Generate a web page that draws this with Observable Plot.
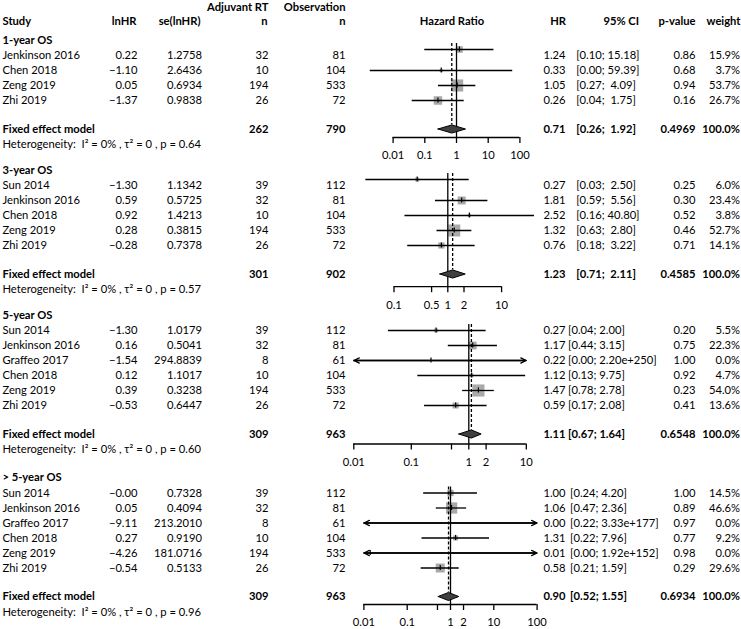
<!DOCTYPE html>
<html><head><meta charset="utf-8">
<script src="https://cdn.jsdelivr.net/npm/d3@7"></script>
<script src="https://cdn.jsdelivr.net/npm/@observablehq/plot@0.6"></script>
<style>
body{margin:0;background:#fff;}
#chart{position:relative;width:741px;height:629px;overflow:hidden;background:#fff;}
#chart svg{position:absolute;left:0;top:0;}
#chart text{white-space:pre;}
</style></head><body><div id="chart"></div>
<script>
// ---------- data ----------
const sectionTitles = ["1-year OS", "3-year OS", "5-year OS", "> 5-year OS"];
const headerLine1 = ["Adjuvant RT", "Observation"];
const headerLine2 = ["Study", "lnHR", "se(lnHR)", "n", "n", "Hazard Ratio", "HR", "95% CI", "p-value", "weight"];

const rowSection = [0,0,0,0, 1,1,1,1,1, 2,2,2,2,2,2, 3,3,3,3,3,3];
const studies = ["Jenkinson 2016","Chen 2018","Zeng 2019","Zhi 2019",
  "Sun 2014","Jenkinson 2016","Chen 2018","Zeng 2019","Zhi 2019",
  "Sun 2014","Jenkinson 2016","Graffeo 2017","Chen 2018","Zeng 2019","Zhi 2019",
  "Sun 2014","Jenkinson 2016","Graffeo 2017","Chen 2018","Zeng 2019","Zhi 2019"];
const lnHR = [0.22,-1.10,0.05,-1.37, -1.30,0.59,0.92,0.28,-0.28, -1.30,0.16,-1.54,0.12,0.39,-0.53, -0,0.05,-9.11,0.27,-4.26,-0.54];
const seLnHR = [1.2758,2.6436,0.6934,0.9838, 1.1342,0.5725,1.4213,0.3815,0.7378, 1.0179,0.5041,294.8839,1.1017,0.3238,0.6447, 0.7328,0.4094,213.2010,0.9190,181.0716,0.5133];
const nRT = [32,10,194,26, 39,32,10,194,26, 39,32,8,10,194,26, 39,32,8,10,194,26];
const nObs = [81,104,533,72, 112,81,104,533,72, 112,81,61,104,533,72, 112,81,61,104,533,72];
const hr = [1.24,0.33,1.05,0.26, 0.27,1.81,2.52,1.32,0.76, 0.27,1.17,0.22,1.12,1.47,0.59, 1.00,1.06,0.0001,1.31,0.014,0.58];
const ciLower = [0.10,0.0019,0.27,0.04, 0.03,0.59,0.16,0.63,0.18, 0.04,0.44,0,0.13,0.78,0.17, 0.24,0.47,0,0.22,0,0.21];
const ciUpper = [15.18,59.39,4.09,1.75, 2.50,5.56,40.80,2.80,3.22, 2.00,3.15,2.20e250,9.75,2.78,2.08, 4.20,2.36,3.33e177,7.96,1.92e152,1.59];
const ciLabels = ["[0.10; 15.18]","[0.00; 59.39]","[0.27;  4.09]","[0.04;  1.75]",
  "[0.03;  2.50]","[0.59;  5.56]","[0.16; 40.80]","[0.63;  2.80]","[0.18;  3.22]",
  "[0.04; 2.00]","[0.44; 3.15]","[0.00; 2.20e+250]","[0.13; 9.75]","[0.78; 2.78]","[0.17; 2.08]",
  "[0.24; 4.20]","[0.47; 2.36]","[0.22; 3.33e+177]","[0.22; 7.96]","[0.00; 1.92e+152]","[0.21; 1.59]"];
const pValues = [0.86,0.68,0.94,0.16, 0.25,0.30,0.52,0.46,0.71, 0.20,0.75,1.00,0.92,0.23,0.41, 1.00,0.89,0.97,0.77,0.98,0.29];
const weights = [15.9,3.7,53.7,26.7, 6.0,23.4,3.8,52.7,14.1, 5.5,22.3,0.0,4.7,54.0,13.6, 14.5,46.6,0.0,9.2,0.0,29.6];

const fixedNRT = [262, 301, 309, 309];
const fixedNObs = [790, 902, 963, 963];
const fixedHR = [0.71, 1.23, 1.11, 0.90];
const fixedLower = [0.26, 0.71, 0.67, 0.52];
const fixedUpper = [1.92, 2.11, 1.64, 1.55];
const fixedCILabels = ["[0.26;  1.92]", "[0.71;  2.11]", "[0.67; 1.64]", "[0.52; 1.55]"];
const fixedP = ["0.4969", "0.4585", "0.6548", "0.6934"];
const hetP = ["0.64", "0.57", "0.60", "0.96"];
const axisTicks = [[0.01,0.1,1,10,100],[0.1,0.5,1,2,10],[0.01,0.1,0.5,1,2,10],[0.01,0.1,0.5,1,2,10,100]];

// ---------- layout ----------
const W = 741, H = 629, ROW = 15;
const layout = [
  {firstY: 55,    px1: 456,   decade: 31.7, xlim: [0.001, 1000], ciX: 575.7, axisGap: 8.5,  shift: 6},
  {firstY: 185,   px1: 447.3, decade: 53.8, xlim: [0.01, 100],   ciX: 575.7, axisGap: 12.7, shift: 6},
  {firstY: 330,   px1: 468.3, decade: 57.5, xlim: [0.01, 10],    ciX: 567.5, axisGap: 10,   shift: 0},
  {firstY: 492.5, px1: 450,   decade: 43.3, xlim: [0.01, 100],   ciX: 569.5, axisGap: 8,    shift: 0}
];
const COL = {study: 2, lnHR: 137, se: 201.5, nRT: 268, nObs: 345, hr: 565, p: 695, w: 739.5, hrTitle: 451.5, ciHead: 638.5};
const FONT = "Lato, 'Open Sans', sans-serif";
const FS = 11.2;

const signed = v => (v < 0 || Object.is(v, -0) ? "\u2212" : "") + Math.abs(v).toFixed(2);

const allRows = studies.map((s, i) => ({
  sec: rowSection[i], study: s, lnHR: lnHR[i], se: seLnHR[i], nRT: nRT[i], nObs: nObs[i],
  hr: hr[i], lo: ciLower[i], hi: ciUpper[i], ci: ciLabels[i], p: pValues[i], w: weights[i]
}));

function sectionPlot(k) {
  const L = layout[k];
  const ticks = axisTicks[k];
  const px = v => L.px1 + Math.log10(v) * L.decade;
  const x0 = px(ticks[0]), x1 = px(ticks[ticks.length - 1]);
  const rows = allRows.filter(d => d.sec === k).map((d, i) => ({...d, row: i + 1, yp: i + 1 - (i === 0 ? L.shift / ROW : 0)}));
  const n = rows.length;
  const sumRow = n + 1.9;
  const hetRow = sumRow + 1.03;
  const axisRow = sumRow + L.axisGap / ROW;
  const titleRow = 1 - 1.03;
  const topRow = rows[0].yp - 0.4;
  const axisY = L.firstY + (axisRow - 1) * ROW;
  const inX = v => v >= L.xlim[0] && v <= L.xlim[1];
  const T = (data, xAbs, anchor, opts) => Plot.text(data, {frameAnchor: "left", dx: xAbs - x0, textAnchor: anchor, fill: "black", fontSize: FS, ...opts});
  const dh = 0.27;
  const diamond = [
    {x: fixedLower[k], y: sumRow}, {x: fixedHR[k], y: sumRow - dh},
    {x: fixedUpper[k], y: sumRow}, {x: fixedHR[k], y: sumRow + dh}, {x: fixedLower[k], y: sumRow}
  ];
  const marks = [
    Plot.dot(rows.filter(d => inX(d.hr) && d.w > 0), {x: "hr", y: "yp", r: "w", symbol: "square", fill: "#a9a9a9", stroke: "none"}),
    Plot.ruleX([1], {y1: topRow, y2: axisRow, stroke: "black", strokeWidth: 1.3}),
    Plot.ruleX([fixedHR[k]], {y1: topRow, y2: sumRow - dh, stroke: "black", strokeWidth: 1.3, strokeDasharray: "3,2"}),
    Plot.ruleY(rows, {y: "yp", x1: d => Math.max(d.lo, L.xlim[0]), x2: d => Math.min(d.hi, L.xlim[1]), stroke: "black", strokeWidth: 1.3}),
    Plot.arrow(rows.filter(d => d.lo < L.xlim[0]), {x1: () => 1, x2: () => L.xlim[0], y1: "yp", y2: "yp", stroke: "black", strokeWidth: 1.3, headLength: 7, headAngle: 50}),
    Plot.arrow(rows.filter(d => d.hi > L.xlim[1]), {x1: () => 1, x2: () => L.xlim[1], y1: "yp", y2: "yp", stroke: "black", strokeWidth: 1.3, headLength: 7, headAngle: 50}),
    Plot.ruleX(rows.filter(d => inX(d.hr)), {x: "hr", y1: d => d.yp - 0.17, y2: d => d.yp + 0.17, stroke: "black", strokeWidth: 1.2}),
    Plot.line(diamond, {x: "x", y: "y", fill: "#3f3f3f", stroke: "black", strokeWidth: 1}),
    Plot.ruleY([axisRow], {x1: ticks[0], x2: ticks[ticks.length - 1], stroke: "black", strokeWidth: 1.3}),
    Plot.axisX({anchor: "bottom", ticks, tickSize: 6, tickPadding: 8, tickFormat: d => String(d), strokeWidth: 1.3, fill: "black", fontSize: FS}),
    // table text
    T([sectionTitles[k]], COL.study, "start", {y: () => titleRow, text: d => d, fontWeight: "bold"}),
    T(rows, COL.study, "start", {y: "row", text: "study"}),
    T(rows, COL.lnHR, "end", {y: "row", text: d => signed(d.lnHR)}),
    T(rows, COL.se, "end", {y: "row", text: d => d.se.toFixed(4)}),
    T(rows, COL.nRT, "end", {y: "row", text: d => String(d.nRT)}),
    T(rows, COL.nObs, "end", {y: "row", text: d => String(d.nObs)}),
    T(rows, COL.hr, "end", {y: "row", text: d => d.hr.toFixed(2)}),
    T(rows, L.ciX, "start", {y: "row", text: "ci"}),
    T(rows, COL.p, "end", {y: "row", text: d => d.p.toFixed(2)}),
    T(rows, COL.w, "end", {y: "row", text: d => d.w.toFixed(1) + "%"}),
    // summary
    T(["Fixed effect model"], COL.study, "start", {y: () => sumRow, text: d => d, fontWeight: "bold"}),
    T([fixedNRT[k]], COL.nRT, "end", {y: () => sumRow, text: d => String(d), fontWeight: "bold"}),
    T([fixedNObs[k]], COL.nObs, "end", {y: () => sumRow, text: d => String(d), fontWeight: "bold"}),
    T([fixedHR[k]], COL.hr, "end", {y: () => sumRow, text: d => d.toFixed(2), fontWeight: "bold"}),
    T([fixedCILabels[k]], L.ciX, "start", {y: () => sumRow, text: d => d, fontWeight: "bold"}),
    T([fixedP[k]], COL.p, "end", {y: () => sumRow, text: d => d, fontWeight: "bold"}),
    T(["100.0%"], COL.w, "end", {y: () => sumRow, text: d => d, fontWeight: "bold"}),
    T([hetP[k]], COL.study, "start", {y: () => hetRow, text: d => `Heterogeneity:  I\u00B2 = 0% , \u03C4\u00B2 = 0 , p = ${d}`})
  ];
  if (k === 0) {
    const h1 = [COL.nRT, COL.nObs];
    const h2 = [[COL.study, "start"], [COL.lnHR - 1, "end"], [COL.se - 1.5, "end"], [COL.nRT - 1, "end"], [COL.nObs, "end"],
      [COL.hrTitle, "middle"], [COL.hr + 0.5, "end"], [COL.ciHead, "end"], [COL.p, "end"], [COL.w + 0.5, "end"]];
    headerLine1.forEach((t, i) => marks.push(T([t], h1[i], "end", {y: () => -2.23, text: d => d, fontWeight: "bold"})));
    headerLine2.forEach((t, i) => marks.push(T([t], h2[i][0], h2[i][1], {y: () => -1.267, text: d => d, fontWeight: "bold"})));
  }
  return Plot.plot({
    width: W, height: H,
    marginLeft: x0, marginRight: W - x1, marginTop: 0, marginBottom: H - axisY,
    x: {type: "log", domain: [ticks[0], ticks[ticks.length - 1]], range: [x0, x1]},
    y: {type: "linear", domain: [1, 2], range: [L.firstY, L.firstY + ROW], axis: null},
    r: {type: "sqrt", domain: [0, 100], range: [0, 9.3]},
    style: {fontFamily: FONT, fontSize: FS + "px", background: "transparent", color: "black", overflow: "visible"},
    marks
  });
}

const chart = document.getElementById("chart");
for (let k = 0; k < 4; k++) chart.appendChild(sectionPlot(k));
</script>
</body></html>
